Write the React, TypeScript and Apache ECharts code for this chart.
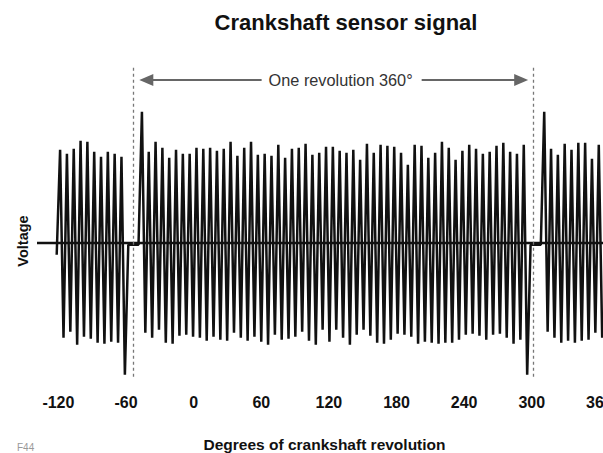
import React, { useEffect, useRef } from "react";
import * as echarts from "echarts";

const titleText = "Crankshaft sensor signal";
const xAxisTitle = "Degrees of crankshaft revolution";
const yAxisTitle = "Voltage";
const figureTag = "F44";
const revolutionLabel = "One revolution 360°";
const tickLabels = [-120, -60, 0, 60, 120, 180, 240, 300, 360];

// tooth slots (60-2 style wheel as drawn), angle of first visible tooth peak and pitch
const firstToothAngle = -118.5;
const toothPitch = 6.05;
const leadInValue = -0.12;

// peak voltage of each tooth slot (missing teeth read as the flat line just below zero)
const peakValues = [
  0.93, 0.89, 0.94, 1.02, 1.01, 0.91, 0.86, 0.91, 0.89, 0.86,
  -0.02, -0.02,
  1.31, 0.91, 1.01, 0.95, 0.85, 0.93, 0.89, 0.89, 0.95, 0.94,
  0.95, 0.92, 0.94, 1.01, 0.87, 0.95, 1.01, 0.88, 0.89, 0.87,
  0.98, 0.85, 0.94, 0.95, 0.99, 0.88, 0.9, 0.96, 0.96, 0.92,
  0.9, 0.93, 0.83, 0.99, 0.9, 0.98, 0.97, 0.96, 0.9, 0.78,
  0.98, 0.97, 0.85, 0.9, 1.01, 0.95, 0.83, 0.92, 0.98, 0.94,
  0.89, 0.91, 0.97, 1.0, 0.91, 0.89, 0.98,
  -0.02, -0.02,
  1.31, 0.94, 0.88, 0.99, 0.93, 1.0, 1.0, 0.84, 0.98,
];

// trough voltage following each tooth peak
const troughValues = [
  -0.95, -0.89, -1.02, -0.94, -0.96, -1.0, -1.01, -0.99, -1.0, -1.32,
  -0.02, -0.02,
  -0.9, -0.95, -0.87, -1.0, -1.01, -0.93, -0.92, -0.94, -0.95, -0.98,
  -0.94, -0.97, -0.98, -0.9, -0.95, -0.98, -0.94, -0.99, -1.02, -0.92,
  -0.97, -0.96, -0.94, -0.89, -0.98, -1.02, -0.87, -0.99, -0.87, -0.95,
  -1.02, -0.92, -0.87, -0.93, -1.0, -1.01, -0.97, -0.91, -0.92, -0.94,
  -1.01, -0.99, -1.0, -1.01, -1.0, -1.0, -0.97, -0.92, -0.91, -0.93,
  -0.97, -0.92, -0.91, -0.95, -1.01, -0.97, -1.32,
  -0.02, -0.02,
  -0.89, -0.95, -1.0, -0.98, -1.0, -0.98, -0.97, -0.9, -0.95,
];

const revolutionMarks = [-53.2, 301.5];
const markTop = 1.75;
const markBottom = -1.37;
const arrowLeft = [60.3, -42.0];
const arrowRight = [202.3, 290.6];
const arrowLevel = 1.627;
const labelAngle = 130.4;

const FONT = "'Liberation Sans', Arial, Helvetica, sans-serif";

export default function App() {
  const ref = useRef<HTMLDivElement>(null);

  useEffect(() => {
    if (!ref.current) return;
    const chart = echarts.init(ref.current, undefined, { renderer: "svg" });

    const signal: number[][] = [[firstToothAngle - toothPitch / 2, leadInValue]];
    peakValues.forEach((p, i) => {
      const a = firstToothAngle + i * toothPitch;
      signal.push([a, p]);
      signal.push([a + toothPitch / 2, troughValues[i]]);
    });

    const dashed = { color: "#777", width: 1.3, type: [3, 3] as any };
    const arrowStyle = { color: "#666", width: 2, type: "solid" as any };

    chart.setOption({
      animation: false,
      backgroundColor: "#fff",
      textStyle: { fontFamily: FONT },
      title: {
        text: titleText,
        left: 346,
        top: 11,
        padding: 0,
        textAlign: "center",
        textStyle: { fontSize: 22, fontWeight: "bold", color: "#111", fontFamily: FONT },
      },
      grid: {
        left: 37,
        right: 0,
        top: 67.7,
        bottom: 70.3,
        containLabel: false,
        outerBoundsMode: "none",
      },
      xAxis: {
        type: "value",
        min: -139,
        max: 363.2,
        axisLine: { show: false },
        axisTick: { show: false },
        splitLine: { show: false },
        axisLabel: {
          customValues: tickLabels,
          margin: 12,
          fontSize: 16,
          fontWeight: "bold",
          color: "#111",
          fontFamily: FONT,
        },
        name: xAxisTitle,
        nameLocation: "middle",
        nameGap: 54,
        nameTextStyle: {
          fontSize: 15.5,
          fontWeight: "bold",
          color: "#111",
          fontFamily: FONT,
          padding: [0, 0, 0, 9],
        },
      },
      yAxis: { type: "value", min: -1.4, max: 1.75, show: false },
      graphic: [
        {
          type: "text",
          x: 22.5,
          y: 241,
          rotation: Math.PI / 2,
          style: {
            text: yAxisTitle,
            fontSize: 14.5,
            fontWeight: "bold",
            fill: "#111",
            align: "center",
            verticalAlign: "middle",
            fontFamily: FONT,
          },
        },
        {
          type: "text",
          x: 17,
          y: 447,
          style: {
            text: figureTag,
            fontSize: 10,
            fill: "#999",
            verticalAlign: "middle",
            fontFamily: FONT,
          },
        },
      ],
      series: [
        {
          type: "line",
          data: signal,
          showSymbol: false,
          symbol: "none",
          silent: true,
          lineStyle: { color: "#111", width: 2.5 },
          markLine: {
            silent: true,
            symbol: "none",
            label: { show: false },
            data: [
              { yAxis: 0, lineStyle: { color: "#111", width: 2.3, type: "solid" } },
              ...revolutionMarks.map((m) => [
                { coord: [m, markTop], lineStyle: dashed },
                { coord: [m, markBottom] },
              ]),
              [
                { coord: [arrowLeft[0], arrowLevel], symbol: "none", lineStyle: arrowStyle },
                { coord: [arrowLeft[1], arrowLevel], symbol: "triangle", symbolSize: [12, 14] },
              ],
              [
                { coord: [arrowRight[0], arrowLevel], symbol: "none", lineStyle: arrowStyle },
                { coord: [arrowRight[1], arrowLevel], symbol: "triangle", symbolSize: [12, 14] },
              ],
            ],
          },
          markPoint: {
            silent: true,
            symbol: "rect",
            symbolSize: 0,
            data: [
              {
                coord: [labelAngle, arrowLevel],
                label: {
                  show: true,
                  position: "inside",
                  formatter: revolutionLabel,
                  fontSize: 16.3,
                  color: "#333",
                  fontFamily: FONT,
                },
              },
            ],
          },
        },
      ],
    });

    return () => chart.dispose();
  }, []);

  return (
    <div
      ref={ref}
      style={{ position: "fixed", left: 0, top: 0, width: 603, height: 453, background: "#fff" }}
    />
  );
}
